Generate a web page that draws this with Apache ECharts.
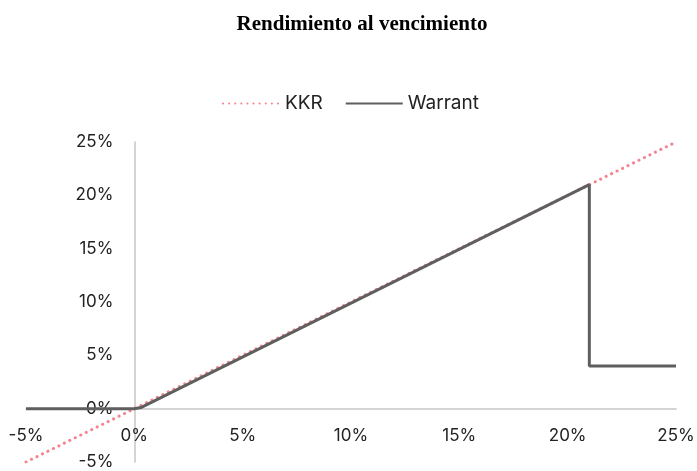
<!DOCTYPE html>
<html><head><meta charset="utf-8">
<script src="https://cdn.jsdelivr.net/npm/echarts@6/dist/echarts.min.js"></script>
<style>html,body{margin:0;padding:0;background:#fff}#c{width:697px;height:471px}</style>
</head><body><div id="c"></div>
<script>
const titleText = 'Rendimiento al vencimiento';
const seriesNames = ['KKR', 'Warrant'];
const kkrX = [-5, 0, 21, 25];
const kkrY = [-5, 0, 21, 25];
const warrantX = [-5, 0, 0.3, 21, 21, 25];
const warrantY = [0, 0, 0.1, 21, 4, 4];
const xTicks = [-5, 0, 5, 10, 15, 20, 25];
const yTicks = [-5, 0, 5, 10, 15, 20, 25];

const W = 697, H = 471;
const grid = {left: 26, right: 21, top: 142, bottom: 9};
const xMin = xTicks[0], xMax = xTicks[xTicks.length-1];
const yMin = yTicks[0], yMax = yTicks[yTicks.length-1];
const plotW = W - grid.left - grid.right, plotH = H - grid.top - grid.bottom;
// move axes to cross at zero
const yAxisOffset = -(0 - xMin) / (xMax - xMin) * plotW;
const xAxisOffset = -(0 - yMin) / (yMax - yMin) * plotH;

const font = 'Inter, Liberation Sans, Arial, sans-serif';
const chart = echarts.init(document.getElementById('c'));
chart.setOption({
  animation: false,
  title: {text: titleText, left: 357, top: 9, textAlign: 'center',
    textStyle: {fontFamily: 'Liberation Serif, Times New Roman, serif', fontWeight: 'bold', fontSize: 21, color: '#000'}},
  legend: {top: 89, left: 217, itemWidth: 57, itemHeight: 14, itemGap: 22,
    itemStyle: {opacity: 0},
    textStyle: {fontFamily: font, fontSize: 19, color: '#222'},
    data: seriesNames.map(n => ({name: n}))},
  grid: Object.assign({containLabel: false, outerBoundsMode: 'none'}, grid),
  xAxis: {type: 'value', min: xMin, max: xMax, interval: 5, position: 'bottom', offset: xAxisOffset,
    axisLine: {onZero: false, lineStyle: {color: '#c6c6c6', width: 1.5}},
    axisTick: {show: false}, splitLine: {show: false},
    axisLabel: {formatter: '{value}%', margin: 19, fontFamily: font, fontSize: 17, color: '#222'}},
  yAxis: {type: 'value', min: yMin, max: yMax, interval: 5, position: 'left', offset: yAxisOffset,
    axisLine: {show: true, onZero: false, lineStyle: {color: '#c6c6c6', width: 1.5}},
    axisTick: {show: false}, splitLine: {show: false},
    axisLabel: {formatter: '{value}%', margin: 21, fontFamily: font, fontSize: 17, color: '#222'}},
  series: [
    {name: seriesNames[0], type: 'line', symbol: 'none', z: 2,
      data: kkrX.map((x, i) => [x, kkrY[i]]),
      lineStyle: {color: '#f4838d', width: 3, type: [0.1, 6], cap: 'round'},
      itemStyle: {color: '#f4838d'}},
    {name: seriesNames[1], type: 'line', symbol: 'none', z: 3,
      data: warrantX.map((x, i) => [x, warrantY[i]]),
      lineStyle: {color: '#5f5f5f', width: 3},
      itemStyle: {color: '#5f5f5f'}}
  ]
});
</script></body></html>
